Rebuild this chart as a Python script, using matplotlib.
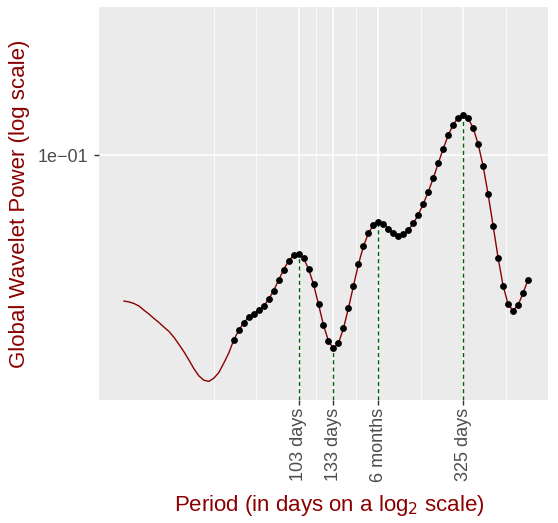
import numpy as np
import matplotlib
matplotlib.use('Agg')
import matplotlib.pyplot as plt
from matplotlib.ticker import FixedLocator, NullLocator, FixedFormatter, NullFormatter

plt.rcParams['font.family'] = ['Liberation Sans', 'DejaVu Sans']

# wavelet scales: spacing dj (in log2 units), first period in days
dj = 0.05
first_period = 30.62

# global wavelet power
power_line_only = [0.0432, 0.0430, 0.0426, 0.0420, 0.0410, 0.0401, 0.0391, 0.0382,
                   0.0372, 0.0363, 0.0351, 0.0337, 0.0323, 0.0308, 0.0293, 0.0281,
                   0.0274, 0.0272, 0.0277, 0.0286, 0.0302, 0.0320]
power_marked = [0.0345, 0.0365, 0.0381, 0.0394, 0.0402, 0.0410, 0.0420, 0.0436, 0.0459, 0.0487,
                0.0518, 0.0544, 0.0562, 0.0566, 0.0553, 0.0520, 0.0476, 0.0424, 0.0376, 0.0343,
                0.0329, 0.0339, 0.0369, 0.0415, 0.0471, 0.0534, 0.0592, 0.0638, 0.0670, 0.0680,
                0.0674, 0.0656, 0.0638, 0.0630, 0.0635, 0.0651, 0.0676, 0.0710, 0.0756, 0.0811,
                0.0876, 0.0955, 0.1039, 0.1122, 0.1193, 0.1242, 0.1259, 0.1237, 0.1170, 0.1067,
                0.0939, 0.0799, 0.0666, 0.0554, 0.0472, 0.0424, 0.0409, 0.0422, 0.0452, 0.0489]

peak_idx = [35, 42, 51, 68]
peak_labels = ['103 days', '133 days', '6 months', '325 days']

power = np.array(power_line_only + power_marked)
period = first_period * 2 ** (dj * np.arange(len(power)))
n_skip = len(power_line_only)

red = '#8B0000'
ylow, yhigh = 0.02444, 0.2349

fig = plt.figure(figsize=(5.58, 5.23), dpi=100)
ax = fig.add_axes([99 / 558, 1 - 400 / 523, 449 / 558, 393 / 523])
ax.set_facecolor('#EBEBEB')
for s in ax.spines.values():
    s.set_visible(False)

ax.set_xscale('log', base=2)
ax.set_yscale('log')
ax.set_xlim(period[0] * 2 ** -0.25, period[0] * 2 ** 4.25)
ax.set_ylim(ylow, yhigh)

# ticks and gridlines (ggplot style minor breaks)
major = np.log2(period[peak_idx])
mids = (major[:-1] + major[1:]) / 2
half = (major[-1] - major[-2]) / 2
minor = np.concatenate([[major[0] - 2 * half, major[0] - half], mids,
                        [major[-1] + half, major[-1] + 2 * half]])
ax.xaxis.set_major_locator(FixedLocator(period[peak_idx]))
ax.xaxis.set_major_formatter(FixedFormatter(peak_labels))
ax.xaxis.set_minor_locator(FixedLocator(2 ** minor))
ax.xaxis.set_minor_formatter(NullFormatter())
ax.yaxis.set_major_locator(FixedLocator([0.1]))
ax.yaxis.set_major_formatter(FixedFormatter(['1e\u221201']))
ax.yaxis.set_minor_locator(NullLocator())
ax.yaxis.set_minor_formatter(NullFormatter())

ax.grid(which='major', color='white', lw=1.1)
ax.grid(which='minor', axis='x', color='white', lw=0.55)
ax.set_axisbelow(True)
ax.tick_params(which='major', length=3.5, width=1, color='#333333', labelcolor='#4D4D4D',
               labelsize=13)
ax.tick_params(axis='x', which='major', pad=2)
ax.tick_params(axis='y', which='major', pad=4.5)
ax.tick_params(which='minor', length=0)
plt.setp(ax.get_xticklabels(), rotation=90)

ax.vlines(period[peak_idx], ylow, power[peak_idx], colors='#006400',
          linestyles=(0, (3, 2.2)), lw=1, zorder=2)
ax.plot(period, power, color=red, lw=1, zorder=3)
ax.plot(period[n_skip:], power[n_skip:], 'o', color='black', ms=3.9, zorder=4)

fig.text(20 / 558, 1 - 204 / 523, 'Global Wavelet Power (log scale)', rotation=90,
         ha='center', va='center', color=red, fontsize=16)
fig.text(329 / 558, 1 - 505 / 523, 'Period (in days on a log$_2$ scale)',
         ha='center', va='center', color=red, fontsize=16)

fig.savefig('out.png', dpi=100)
